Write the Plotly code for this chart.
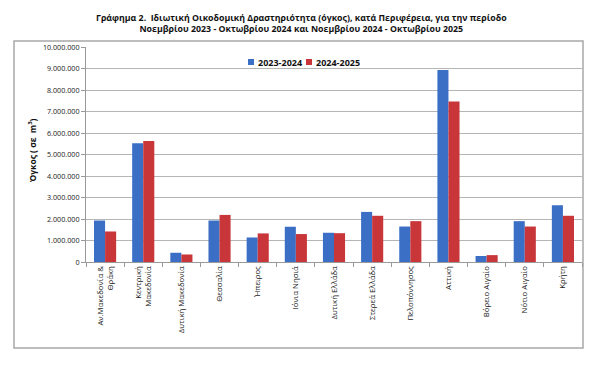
import plotly.graph_objects as go

regions = [
    "Αν.Μακεδονία &<br>Θράκη", "Κεντρική<br>Μακεδονία", "Δυτική Μακεδονία", "Θεσσαλία",
    "Ήπειρος", "Ιόνια Νησιά", "Δυτική Ελλάδα", "Στερεά Ελλάδα", "Πελοπόννησος",
    "Αττική", "Βόρειο Αιγαίο", "Νότιο Αιγαίο", "Κρήτη",
]
series_names = ["2023-2024", "2024-2025"]
v_2023_2024 = [1930000, 5520000, 430000, 1930000, 1140000, 1640000, 1360000,
               2330000, 1650000, 8930000, 280000, 1900000, 2640000]
v_2024_2025 = [1420000, 5630000, 350000, 2190000, 1330000, 1300000, 1340000,
               2150000, 1900000, 7460000, 320000, 1650000, 2150000]
y_ticks = [0, 1000000, 2000000, 3000000, 4000000, 5000000, 6000000, 7000000,
           8000000, 9000000, 10000000]

FONT = "Open Sans"
COLORS = ["#3B6FC6", "#C9363A"]
W, H = 600, 373
OFF = 8  # page body margin
# desired screen positions of plot area
SX0, SX1, SY0, SY1 = 86, 582, 47, 262
L = SX0 - OFF
R = W - (SX1 - OFF)
T = SY0 - OFF
B = H - (SY1 - OFF)
PW, PH = W - L - R, H - T - B

def px(x):  # screen x -> paper
    return (x - SX0) / PW

def py(y):  # screen y -> paper
    return (SY1 - y) / PH

fig = go.Figure()
fig.add_trace(go.Bar(name=series_names[0], x=regions, y=v_2023_2024,
                     marker=dict(color=COLORS[0], line=dict(width=0)), showlegend=False))
fig.add_trace(go.Bar(name=series_names[1], x=regions, y=v_2024_2025,
                     marker=dict(color=COLORS[1], line=dict(width=0)), showlegend=False))

# custom legend (square + label)
leg_y = 62
leg_items = [(251, series_names[0], COLORS[0]), (309, series_names[1], COLORS[1])]
shapes = [
    dict(type="rect", xref="paper", yref="paper", x0=px(14), x1=px(583),
         y0=py(348), y1=py(41), line=dict(color="#a8a8a8", width=1.5),
         fillcolor="rgba(0,0,0,0)", layer="below"),
]
annotations = [
    dict(text="Γράφημα 2.  Ιδιωτική Οικοδομική Δραστηριότητα (όγκος), κατά Περιφέρεια, για την περίοδο<br>Νοεμβρίου 2023 - Οκτωβρίου 2024 και Νοεμβρίου 2024 - Οκτωβρίου 2025",
         x=px(301), y=py(24), xref="paper", yref="paper", showarrow=False,
         xanchor="center", yanchor="middle", align="center",
         font=dict(size=8.8, color="#111", family=FONT, weight="bold")),
    dict(text="Όγκος ( σε  m<sup>3</sup>)", x=px(32), y=py(150), xref="paper", yref="paper",
         showarrow=False, textangle=-90, xanchor="center", yanchor="middle",
         font=dict(size=8.5, color="#111", family=FONT, weight="bold")),
]
for sx, name, col in leg_items:
    shapes.append(dict(type="rect", xref="paper", yref="paper",
                       x0=px(sx - 3), x1=px(sx + 3), y0=py(leg_y + 3), y1=py(leg_y - 3),
                       fillcolor=col, line=dict(width=0)))
    annotations.append(dict(text=name, x=px(sx + 5), y=py(leg_y), xref="paper", yref="paper",
                            showarrow=False, xanchor="left", yanchor="middle",
                            font=dict(size=9, color="#111", family=FONT, weight="bold")))

fig.update_layout(
    width=W, height=H,
    margin=dict(l=L, r=R, t=T, b=B, autoexpand=False),
    paper_bgcolor="white", plot_bgcolor="white",
    separators=",.",
    font=dict(family=FONT, size=8, color="#222"),
    barmode="group", bargap=0.42, bargroupgap=0,
    xaxis=dict(showline=True, linecolor="#9a9a9a", linewidth=1, ticks="outside",
               tickson="boundaries", ticklen=4, tickcolor="#9a9a9a",
               tickangle=-90, tickfont=dict(size=7.8, color="#222"),
               showgrid=False),
    yaxis=dict(range=[0, 10000000], tickvals=y_ticks, tickformat=",d",
               showline=True, linecolor="#9a9a9a", linewidth=1,
               ticks="outside", ticklen=4, tickcolor="#9a9a9a",
               gridcolor="#b5b5b5", gridwidth=1, zeroline=False,
               tickfont=dict(size=7.2, color="#222")),
    annotations=annotations,
    shapes=shapes,
)

fig.write_html("out.html")
